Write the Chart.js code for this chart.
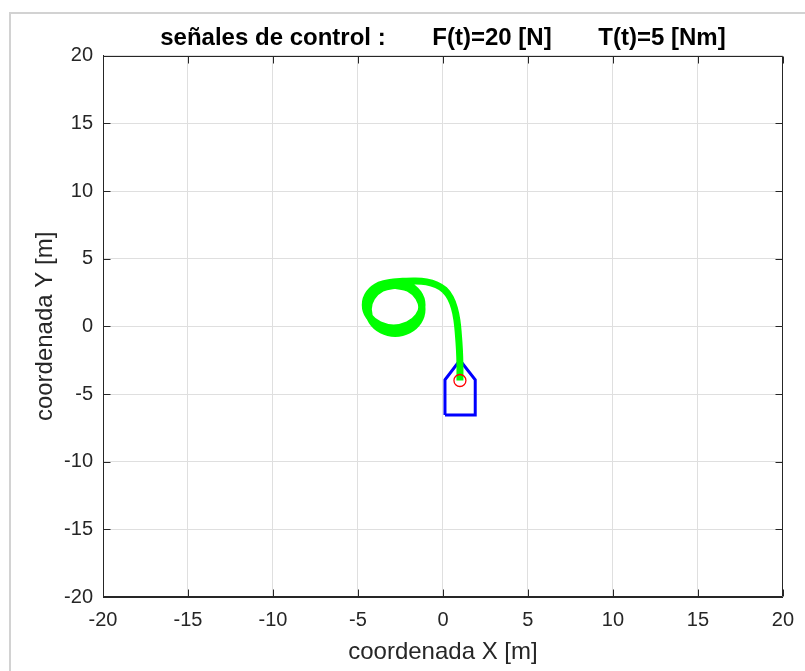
<!DOCTYPE html>
<html lang="es">
<head>
<meta charset="UTF-8" />
<title>señales de control</title>
<script src="https://cdn.jsdelivr.net/npm/chart.js"></script>
<style>
  html, body { margin: 0; padding: 0; background: #fff; }
  .wrap { position: relative; width: 805px; height: 671px; overflow: hidden; }
  /* marco gris de la ventana */
  .frame {
    position: absolute; left: 9px; top: 12px; width: 900px; height: 800px;
    border-left: 2px solid #d2d2d2; border-top: 2px solid #d2d2d2;
  }
  canvas { position: absolute; left: 0; top: 0; }
</style>
</head>
<body>
<div class="wrap">
  <div class="frame"></div>
  <canvas id="plot" width="805" height="671"></canvas>
</div>

<script>
  // ejes
  const axisTicks = [-20, -15, -10, -5, 0, 5, 10, 15, 20];

  // casco del barco (polígono azul)
  const boatX = [0.12, 1.9, 1.9, 1.0, 0.12, 0.12];
  const boatY = [-6.55, -6.55, -3.95, -2.5, -3.95, -6.55];

  // posición actual (círculo rojo)
  const markerX = [1.0];
  const markerY = [-4.0];

  // trayectoria (verde)
  const pathX = [1.0, 1.0, 0.97, 0.91, 0.82, 0.67, 0.44, 0.09, -0.38, -0.97, -1.67, -2.37,
    -2.90, -3.73, -4.35, -4.57, -4.35, -3.73, -2.90, -2.06, -1.45, -1.23, -1.45, -2.06,
    -2.81, -3.60, -4.18, -4.39, -4.18, -3.60, -2.81, -2.02, -1.44, -1.23, -1.44, -2.02, -2.81];
  const pathY = [-4.0, -2.85, -1.74, -0.63, 0.48, 1.37, 2.11, 2.70, 3.07, 3.29, 3.36, 3.33,
    3.29, 3.06, 2.44, 1.59, 0.74, 0.12, -0.11, 0.12, 0.74, 1.59, 2.44, 3.06,
    3.03, 2.80, 2.14, 1.26, 0.37, -0.28, -0.52, -0.28, 0.37, 1.26, 2.14, 2.80, 3.03];

  const titleText = 'señales de control :       F(t)=20 [N]       T(t)=5 [Nm]';

  function toPoints(xs, ys) {
    return xs.map((x, i) => ({ x: x, y: ys[i] }));
  }

  // caja completa con marcas hacia dentro (estilo matlab)
  const boxTicks = {
    id: 'boxTicks',
    afterDraw(chart) {
      const { ctx, chartArea: a, scales: { x, y } } = chart;
      const len = 7;
      ctx.save();
      ctx.strokeStyle = '#262626';
      ctx.lineWidth = 1;
      const L = Math.round(a.left) + 0.5, R = Math.round(a.right) - 0.5;
      const T = Math.round(a.top) + 0.5, B = Math.round(a.bottom) - 0.5;
      ctx.beginPath();
      ctx.rect(L, T, R - L, B - T);
      axisTicks.forEach(v => {
        const px = Math.round(x.getPixelForValue(v)) + 0.5;
        ctx.moveTo(px, B); ctx.lineTo(px, B - len);
        ctx.moveTo(px, T); ctx.lineTo(px, T + len);
        const py = Math.round(y.getPixelForValue(v)) + 0.5;
        ctx.moveTo(L, py); ctx.lineTo(L + len, py);
        ctx.moveTo(R, py); ctx.lineTo(R - len, py);
      });
      ctx.stroke();
      ctx.restore();
    }
  };

  const gridOpts = { color: '#dfdfdf', lineWidth: 1, drawTicks: false };
  const tickFont = { family: 'Liberation Sans, Arial, sans-serif', size: 20 };
  const labelFont = { family: 'Liberation Sans, Arial, sans-serif', size: 24 };

  new Chart(document.getElementById('plot'), {
    type: 'scatter',
    data: {
      datasets: [
        {
          label: 'posicion',
          data: toPoints(markerX, markerY),
          showLine: false,
          pointStyle: 'circle',
          pointRadius: 6,
          pointBorderWidth: 1.3,
          pointBorderColor: '#ff0000',
          pointBackgroundColor: 'rgba(0,0,0,0)',
          order: 0
        },
        {
          label: 'trayectoria',
          data: toPoints(pathX, pathY),
          showLine: true,
          borderColor: '#00ff00',
          borderWidth: 7,
          tension: 0.4,
          pointRadius: 0,
          fill: false,
          order: 1
        },
        {
          label: 'barco',
          data: toPoints(boatX, boatY),
          showLine: true,
          borderColor: '#0000ff',
          borderWidth: 3,
          borderJoinStyle: 'miter',
          tension: 0,
          pointRadius: 0,
          fill: false,
          order: 2
        }
      ]
    },
    options: {
      responsive: false,
      animation: false,
      devicePixelRatio: 1,
      layout: { padding: { left: 0, right: 17, top: 0, bottom: 0 } },
      plugins: {
        legend: { display: false },
        tooltip: { enabled: false },
        title: {
          display: true,
          text: titleText,
          fullSize: false,
          color: '#000',
          font: { family: 'Liberation Sans, Arial, sans-serif', size: 24, weight: 'bold' },
          padding: { top: 24, bottom: 3 }
        }
      },
      scales: {
        x: {
          type: 'linear',
          min: -20, max: 20,
          afterFit: s => { s.height = 74; },
          afterBuildTicks: s => { s.ticks = axisTicks.map(v => ({ value: v })); },
          grid: gridOpts,
          border: { display: true, color: '#262626' },
          ticks: { color: '#262626', font: tickFont, padding: 11, maxRotation: 0 },
          title: {
            display: true, text: 'coordenada X [m]', color: '#262626',
            font: labelFont, padding: { top: 0, bottom: 4 }
          }
        },
        y: {
          type: 'linear',
          min: -20, max: 20,
          afterFit: s => { s.width = 103; },
          afterBuildTicks: s => { s.ticks = axisTicks.map(v => ({ value: v })); },
          grid: gridOpts,
          border: { display: true, color: '#262626' },
          ticks: { color: '#262626', font: tickFont, padding: 10 },
          title: {
            display: true, text: 'coordenada Y [m]', color: '#262626',
            font: labelFont, padding: { top: 31, bottom: 0 }
          }
        }
      }
    },
    plugins: [boxTicks]
  });
</script>
</body>
</html>
